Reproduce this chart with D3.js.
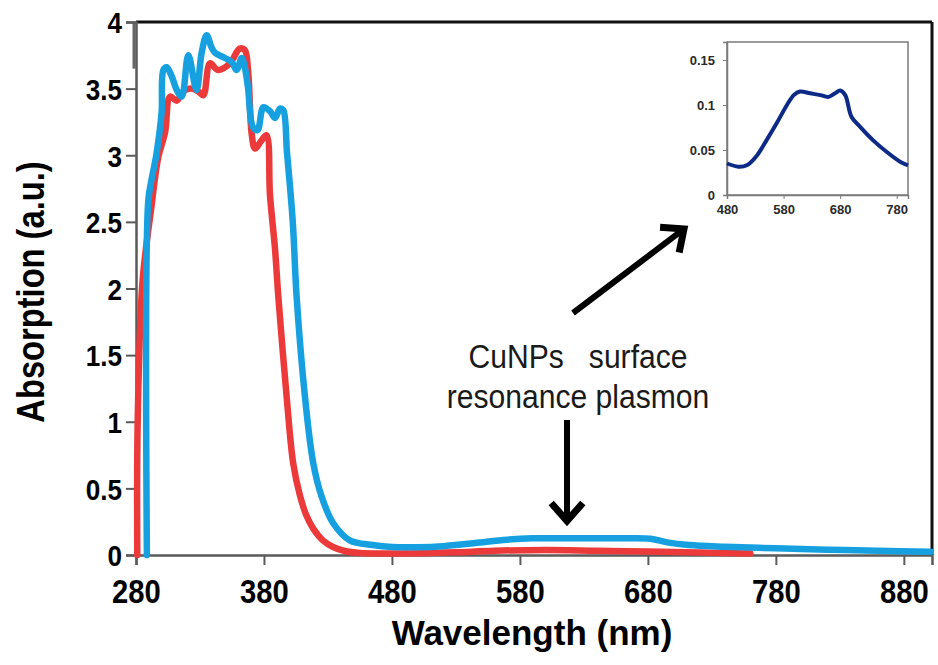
<!DOCTYPE html>
<html>
<head>
<meta charset="utf-8">
<script src="https://cdn.jsdelivr.net/npm/d3@7"></script>
<style>
  html, body { margin: 0; padding: 0; background: #fff; }
  svg { display: block; }
  text { font-family: "Liberation Sans", Arial, sans-serif; }
</style>
</head>
<body>
<div id="chart"></div>
<script>
// red spectrum (reference sample)
const redWavelength = [281, 281.3, 285, 292, 297.5, 302.7, 306.6, 311.8, 317, 323, 328.6, 332.6, 337.8, 344, 353.4, 361, 365,
  367.7, 370.4, 373, 378, 382, 384.7, 388.6, 391.2, 397.7, 402.8, 408, 413, 419, 426, 434, 443, 455, 480, 505, 530, 560, 600,
  640, 680, 720, 760];
const redAbsorb = [0, 0.99, 2.04, 2.61, 2.99, 3.17, 3.44, 3.41, 3.48, 3.5, 3.48, 3.45, 3.69, 3.64, 3.69, 3.80, 3.79,
  3.62, 3.16, 3.05, 3.11, 3.15, 2.7, 2.3, 1.94, 1.19, 0.69, 0.45, 0.30, 0.19, 0.11, 0.06, 0.03, 0.015, 0.012, 0.013, 0.02, 0.032, 0.038,
  0.032, 0.026, 0.018, 0.012];

// blue spectrum (with CuNPs)
const blueWavelength = [288.5, 289.6, 292, 296, 300, 301.4, 304, 308, 311.8, 315.7, 320.9, 327.3, 331.3, 335.2, 339, 341.7,
  349.5, 354.8, 358.6, 362.6, 365, 367.5, 371.4, 375, 379.5, 384.7, 388.6, 392.5, 395, 398, 402.5, 405.5, 412, 418.5, 425,
  434, 447, 465, 480, 500, 520, 545, 570, 590, 630, 660, 682, 695, 712, 740, 780, 820, 860, 901];
const blueAbsorb = [0, 2.66, 2.81, 3.01, 3.32, 3.64, 3.66, 3.59, 3.49, 3.44, 3.75, 3.49, 3.77, 3.90, 3.81, 3.77,
  3.73, 3.70, 3.64, 3.73, 3.66, 3.51, 3.21, 3.19, 3.36, 3.33, 3.28, 3.35, 3.34, 3.02, 2.5, 1.94, 1.19, 0.69, 0.44,
  0.24, 0.11, 0.075, 0.06, 0.058, 0.066, 0.09, 0.115, 0.125, 0.125, 0.125, 0.122, 0.095, 0.075, 0.062, 0.05, 0.04, 0.032, 0.025];

// inset: CuNPs plasmon band
const insetWavelength = [480, 500, 515, 533, 550, 568, 586, 598, 609, 627, 645, 659, 671, 680, 689, 700, 715, 738, 762, 786, 800];
const insetAbsorb = [0.035, 0.0315, 0.033, 0.044, 0.061, 0.080, 0.100, 0.111, 0.115, 0.113, 0.111, 0.109, 0.113, 0.116, 0.111,
  0.087, 0.076, 0.061, 0.048, 0.037, 0.033];

const xTicks = [280, 380, 480, 580, 680, 780, 880];
const yTicks = [0, 0.5, 1, 1.5, 2, 2.5, 3, 3.5, 4];
const insetXTicks = [480, 580, 680, 780];
const insetYTicks = [0, 0.05, 0.1, 0.15];

const width = 938, height = 665;
const margin = { top: 22, right: 6, bottom: 110, left: 136 };

const svg = d3.select('#chart').append('svg').attr('width', width).attr('height', height);
svg.append('rect').attr('width', width).attr('height', height).attr('fill', '#fff');

const x = d3.scaleLinear().domain([280, 902]).range([margin.left, width - margin.right]);
const y = d3.scaleLinear().domain([0, 4]).range([height - margin.bottom, margin.top]);

// frame: black top and right borders
svg.append('line').attr('x1', x(280)).attr('x2', x(902)).attr('y1', y(4)).attr('y2', y(4))
  .attr('stroke', '#111').attr('stroke-width', 3);
svg.append('line').attr('x1', x(902)).attr('x2', x(902)).attr('y1', y(4)).attr('y2', y(0))
  .attr('stroke', '#111').attr('stroke-width', 3);
// darker doubled stub at the top of the y axis
svg.append('line').attr('x1', x(280) - 2).attr('x2', x(280) - 2).attr('y1', y(4)).attr('y2', y(3.65))
  .attr('stroke', '#666').attr('stroke-width', 3);

// axes
const xAxis = svg.append('g').attr('transform', `translate(0,${y(0)})`)
  .call(d3.axisBottom(x).tickValues(xTicks).tickSize(10).tickPadding(6).tickFormat(d3.format('d')));
const yAxis = svg.append('g').attr('transform', `translate(${x(280)},0)`)
  .call(d3.axisLeft(y).tickValues(yTicks).tickSize(10).tickPadding(4).tickFormat(d => String(d)));

[xAxis, yAxis].forEach(g => {
  g.select('.domain').attr('stroke', '#5a5a5a').attr('stroke-width', 2.5);
  g.selectAll('.tick line').attr('stroke', '#5a5a5a').attr('stroke-width', 2);
});
xAxis.selectAll('.tick text')
  .attr('font-size', 34).attr('font-weight', 'bold').attr('fill', '#000')
  .attr('y', 24).attr('dy', '0.71em').attr('transform', 'scale(0.86,1)');
yAxis.selectAll('.tick text')
  .attr('font-size', 30).attr('font-weight', 'bold').attr('fill', '#000')
  .attr('x', -14 / 0.87).attr('dy', '0.36em').attr('transform', 'scale(0.87,1)');

// axis titles
svg.append('text').attr('x', 532).attr('y', 645).attr('text-anchor', 'middle')
  .attr('font-size', 35).attr('font-weight', 'bold').attr('fill', '#000').text('Wavelength (nm)');
svg.append('text').attr('transform', 'translate(44,292) rotate(-90) scale(0.86,1)').attr('text-anchor', 'middle')
  .attr('font-size', 38).attr('font-weight', 'bold').attr('fill', '#000').text('Absorption (a.u.)');

// spectra
const line = d3.line().x(d => x(d[0])).y(d => y(d[1])).curve(d3.curveCatmullRom.alpha(0.5));
const redData = redWavelength.map((w, i) => [w, redAbsorb[i]]);
const blueData = blueWavelength.map((w, i) => [w, blueAbsorb[i]]);

svg.append('path').datum(redData).attr('d', line).attr('fill', 'none')
  .attr('stroke', '#ec3a3a').attr('stroke-width', 6.5).attr('stroke-linejoin', 'round').attr('stroke-linecap', 'round');
svg.append('path').datum(blueData).attr('d', line).attr('fill', 'none')
  .attr('stroke', '#16a0e0').attr('stroke-width', 6.5).attr('stroke-linejoin', 'round').attr('stroke-linecap', 'round');

// annotation text
const note = svg.append('g').attr('transform', 'translate(578,0) scale(0.885,1)');
note.append('text').attr('x', 0).attr('y', 368).attr('text-anchor', 'middle').style('white-space', 'pre')
  .attr('font-size', 34).attr('fill', '#1a1a1a').text('CuNPs   surface');
note.append('text').attr('x', 0).attr('y', 408).attr('text-anchor', 'middle')
  .attr('font-size', 34).attr('fill', '#1a1a1a').text('resonance plasmon');

// arrows
function arrow(x1, y1, x2, y2) {
  const ang = Math.atan2(y2 - y1, x2 - x1);
  const len = 24, spread = 0.72;
  svg.append('line').attr('x1', x1).attr('y1', y1)
    .attr('x2', x2 - Math.cos(ang) * 4).attr('y2', y2 - Math.sin(ang) * 4)
    .attr('stroke', '#000').attr('stroke-width', 6);
  const pts = [
    [x2 - len * Math.cos(ang - spread), y2 - len * Math.sin(ang - spread)],
    [x2, y2],
    [x2 - len * Math.cos(ang + spread), y2 - len * Math.sin(ang + spread)]
  ];
  svg.append('path').attr('d', d3.line()(pts)).attr('fill', 'none')
    .attr('stroke', '#000').attr('stroke-width', 7).attr('stroke-linejoin', 'miter');
}
arrow(573, 313, 684, 229);
arrow(567, 420, 567, 521);

// inset
const ix = d3.scaleLinear().domain([480, 800]).range([727, 908]);
const iy = d3.scaleLinear().domain([0, 0.17]).range([195, 42]);

svg.append('rect').attr('x', 727).attr('y', 42).attr('width', 181).attr('height', 153)
  .attr('fill', '#fff').attr('stroke', '#7a7a7a').attr('stroke-width', 1.5);

const ixAxis = svg.append('g').attr('transform', `translate(0,${iy(0)})`)
  .call(d3.axisBottom(ix).tickValues(insetXTicks).tickSize(4).tickPadding(6).tickFormat(d3.format('d')));
const iyAxis = svg.append('g').attr('transform', `translate(${ix(480)},0)`)
  .call(d3.axisLeft(iy).tickValues(insetYTicks).tickSize(4).tickPadding(8).tickFormat(d => String(d)));
[ixAxis, iyAxis].forEach(g => {
  g.select('.domain').attr('stroke', '#7a7a7a').attr('stroke-width', 1.5);
  g.selectAll('.tick line').attr('stroke', '#7a7a7a');
  g.selectAll('.tick text').attr('font-size', 13).attr('font-weight', 'bold').attr('fill', '#2a2a2a');
});

const insetData = insetWavelength.map((w, i) => [w, insetAbsorb[i]]);
svg.append('path').datum(insetData)
  .attr('d', d3.line().x(d => ix(d[0])).y(d => iy(d[1])).curve(d3.curveCatmullRom.alpha(0.5)))
  .attr('fill', 'none').attr('stroke', '#0d2a86').attr('stroke-width', 4).attr('stroke-linejoin', 'round');
</script>
</body>
</html>
